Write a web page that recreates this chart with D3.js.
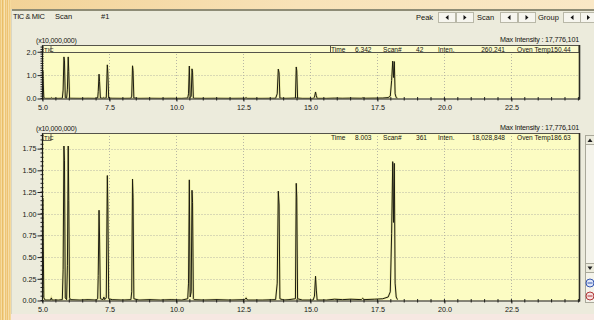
<!DOCTYPE html>
<html><head><meta charset="utf-8">
<script src="https://cdn.jsdelivr.net/npm/d3@7"></script>
<style>
html,body{margin:0;padding:0;background:#f3d8a2;}
svg{display:block;}
text{font-family:"Liberation Sans",Arial,sans-serif;fill:#151510;}
</style></head><body>
<svg id="c" width="594" height="320"></svg>
<script>
// TIC trace: retention time (min) and intensity (x10,000,000)
const times = [
  5.00, 5.01, 5.03, 5.05, 5.10, 5.30, 5.33, 5.36, 5.60, 5.74, 5.77, 5.80, 5.82, 5.85,
  5.90, 5.93, 5.96, 5.98, 6.01, 6.05, 6.40, 6.70, 7.00, 7.06, 7.08, 7.11, 7.13, 7.16,
  7.26, 7.29, 7.32, 7.38, 7.42, 7.44, 7.47, 7.60, 8.00, 8.30, 8.33, 8.36, 8.38, 8.41,
  8.60, 9.00, 9.40, 9.80, 10.20, 10.42, 10.45, 10.48, 10.51, 10.55, 10.58, 10.60, 10.63,
  10.66, 11.00, 11.50, 12.00, 12.55, 12.60, 12.65, 13.20, 13.70, 13.76, 13.80, 13.83,
  13.86, 14.00, 14.20, 14.44, 14.47, 14.49, 14.52, 14.70, 15.10, 15.15, 15.19, 15.22,
  15.25, 15.60, 15.90, 16.20, 16.50, 16.90, 16.95, 17.00, 17.40, 17.70, 17.90, 17.98,
  18.03, 18.07, 18.10, 18.13, 18.16, 18.20, 18.25
];
const intensities = [
  0.01, 1.18, 0.60, 0.03, 0.005, 0.005, 0.03, 0.005, 0.005, 0.01, 0.36, 1.78, 1.61, 0.03,
  0.01, 0.40, 1.78, 1.15, 0.03, 0.01, 0.005, 0.01, 0.005, 0.02, 0.29, 1.04, 0.72, 0.02,
  0.01, 0.04, 0.01, 0.03, 1.44, 1.08, 0.02, 0.01, 0.005, 0.01, 0.10, 1.40, 1.19, 0.02,
  0.005, 0.01, 0.005, 0.01, 0.005, 0.02, 0.20, 1.39, 0.04, 0.10, 1.27, 1.13, 0.02,
  0.01, 0.005, 0.01, 0.005, 0.01, 0.03, 0.005, 0.005, 0.01, 0.20, 1.26, 1.10,
  0.02, 0.005, 0.01, 0.02, 1.35, 1.19, 0.02, 0.005, 0.005, 0.05, 0.28, 0.12,
  0.005, 0.005, 0.015, 0.01, 0.015, 0.01, 0.025, 0.01, 0.015, 0.02, 0.04, 0.10,
  0.77, 1.60, 0.90, 1.58, 0.20, 0.04, 0.01
];

const xTickValues = [5.0, 7.5, 10.0, 12.5, 15.0, 17.5, 20.0, 22.5];
const overviewYTicks = [0.0, 1.0, 2.0];
const detailYTicks = [0.00, 0.25, 0.50, 0.75, 1.00, 1.25, 1.50, 1.75];

const scaleLabel = "(x10,000,000)";
const maxIntensityLabel = "Max Intensity : 17,776,101";
const traceName = "TIC";
const overviewCursor = ["Time", "6.342", "Scan#", "42", "Inten.", "260,241", "Oven Temp150.44"];
const detailCursor = ["Time", "8.003", "Scan#", "361", "Inten.", "18,028,848", "Oven Temp186.63"];
const toolbarLeft = ["TIC & MIC", "Scan", "#1"];
const toolbarRight = ["Peak", "Scan", "Group"];

const svg = d3.select("#c");
const defs = svg.append("defs");
const trace = times.map((t, i) => ({t, v: intensities[i]}));

// --- backdrop ---
const g1 = defs.append("linearGradient").attr("id", "top").attr("x1", 0).attr("x2", 1);
g1.append("stop").attr("offset", 0).attr("stop-color", "#f2d296");
g1.append("stop").attr("offset", 0.5).attr("stop-color", "#f8e2b8");
g1.append("stop").attr("offset", 1).attr("stop-color", "#fae8c6");
svg.append("rect").attr("width", 594).attr("height", 320).attr("fill", "url(#top)");
const streaks = ["#efc97c", "#f6dba0", "#e9bd68", "#f3d18a", "#f8e2b2", "#ecc576", "#f4d597", "#eec272", "#f7dda6", "#f0cc82", "#f5d99c"];
streaks.forEach((c, i) => svg.append("rect").attr("x", i).attr("y", 0).attr("width", 1).attr("height", 320).attr("fill", c));
svg.append("rect").attr("x", 11).attr("y", 314).attr("width", 583).attr("height", 6).attr("fill", "#f6e8e2");

// application window
svg.append("rect").attr("x", 11).attr("y", 9).attr("width", 583).attr("height", 305).attr("fill", "#ecebdc");
svg.append("line").attr("x1", 11).attr("x2", 594).attr("y1", 10).attr("y2", 10).attr("stroke", "#8e8c76").attr("stroke-width", 2);
svg.append("line").attr("x1", 11.5).attr("x2", 11.5).attr("y1", 9).attr("y2", 314).attr("stroke", "#d8d6c4");

// toolbar
const tb = svg.append("g").attr("font-size", 7.5);
tb.append("text").attr("x", 13).attr("y", 19).attr("letter-spacing", -0.4).text(toolbarLeft[0]);
tb.append("text").attr("x", 55).attr("y", 19).text(toolbarLeft[1]);
tb.append("text").attr("x", 101).attr("y", 19).text(toolbarLeft[2]);

const labelX = [416, 477, 538];
const btnX = [[438, 456], [500, 518], [563, 580]];
toolbarRight.forEach((s, i) => {
  tb.append("text").attr("x", labelX[i]).attr("y", 20).text(s);
  btnX[i].forEach((bx, j) => {
    const w = (i === 2 && j === 1) ? 16 : 17;
    tb.append("rect").attr("x", bx + 0.5).attr("y", 12.5).attr("width", w).attr("height", 10)
      .attr("fill", "#f6f5ee").attr("stroke", "#b9b8a8");
    const cx = bx + w / 2 + 0.5, cy = 17.5;
    const pts = j === 0 ? [[cx + 1.5, cy - 2.5], [cx + 1.5, cy + 2.5], [cx - 1.5, cy]]
                        : [[cx - 1.5, cy - 2.5], [cx - 1.5, cy + 2.5], [cx + 1.5, cy]];
    tb.append("polygon").attr("points", pts.map(p => p.join(",")).join(" ")).attr("fill", "#111");
  });
});

// --- chromatogram panels ---
const xLeft = 42.5, xRight = 580;

function panel(opt) {
  const x = d3.scaleLinear().domain([5.0, 25.06]).range([xLeft, xRight]);
  const y = d3.scaleLinear().domain([0, opt.yTop]).range([opt.bottom, opt.top]);
  const g = svg.append("g");

  g.append("rect").attr("x", xLeft).attr("y", opt.top).attr("width", xRight - xLeft)
    .attr("height", opt.bottom - opt.top).attr("fill", "#fcfcc3");

  // dotted grid
  g.append("g").selectAll("line").data(xTickValues.slice(1)).join("line")
    .attr("x1", d => x(d)).attr("x2", d => x(d)).attr("y1", opt.top).attr("y2", opt.bottom)
    .attr("stroke", "#b7b6a4").attr("stroke-dasharray", "1,2").attr("shape-rendering", "crispEdges");
  g.append("g").selectAll("line").data(opt.yTicks.filter(d => d > 0)).join("line")
    .attr("x1", xLeft).attr("x2", xRight).attr("y1", d => Math.round(y(d)) + 0.5).attr("y2", d => Math.round(y(d)) + 0.5)
    .attr("stroke", "#b7b6a4").attr("stroke-dasharray", "1,2");

  // header strip
  if (opt.strip) {
    g.append("rect").attr("x", xLeft).attr("y", opt.top + 0.5).attr("width", xRight - xLeft - 1).attr("height", 7)
      .attr("fill", "#fbfbcc").attr("stroke", "#55544a");
    g.append("rect").attr("x", 330.5).attr("y", opt.top + 0.5).attr("width", 249).attr("height", 7)
      .attr("fill", "none").attr("stroke", "#55544a");
  }
  g.append("rect").attr("x", xLeft + 0.5).attr("y", opt.top + 0.5).attr("width", 8).attr("height", 7)
    .attr("fill", "none").attr("stroke", "#6b6a5c");
  g.append("text").attr("x", xLeft + 1.5).attr("y", opt.top + 6.5).attr("font-size", 6).text(traceName);

  const cx = [331, 355, 383, 416, 438, 0, 517];
  const cy = opt.top + 6.8;
  opt.cursor.forEach((s, i) => {
    const t = g.append("text").attr("y", cy).attr("font-size", 6.6).text(s);
    if (i === 5) t.attr("x", 505).attr("text-anchor", "end");
    else t.attr("x", cx[i]);
  });

  // trace
  g.append("clipPath").attr("id", opt.id).append("rect")
    .attr("x", xLeft).attr("y", opt.top).attr("width", xRight - xLeft).attr("height", opt.bottom - opt.top);
  const line = d3.line().x(d => x(d.t)).y(d => y(d.v));
  g.append("path").datum(trace).attr("clip-path", `url(#${opt.id})`)
    .attr("d", line).attr("fill", "none").attr("stroke", "#e7e59c").attr("stroke-width", 2.2);
  g.append("path").datum(trace).attr("clip-path", `url(#${opt.id})`)
    .attr("d", line).attr("fill", "none").attr("stroke", "#1c1c12").attr("stroke-width", 1);

  // axes
  const xAxis = g.append("g").attr("transform", `translate(0,${opt.bottom})`)
    .call(d3.axisBottom(x).tickValues(xTickValues).tickFormat(d3.format(".1f")).tickSize(3).tickPadding(3));
  xAxis.call(a => a.select(".domain").remove());
  xAxis.selectAll("text").attr("font-size", 7.2).attr("fill", "#151510");
  xAxis.selectAll("line").attr("stroke", "#222");
  g.append("g").selectAll("line").data(x.ticks(40)).join("line")
    .attr("x1", d => x(d)).attr("x2", d => x(d)).attr("y1", opt.bottom - 1.5).attr("y2", opt.bottom + 2)
    .attr("stroke", "#222");

  const yAxis = g.append("g").attr("transform", `translate(${xLeft},0)`)
    .call(d3.axisLeft(y).tickValues(opt.yTicks).tickFormat(d3.format(opt.fmt)).tickSize(5).tickPadding(1));
  yAxis.call(a => a.select(".domain").remove());
  yAxis.selectAll("text").attr("font-size", 7.2).attr("fill", "#151510");
  yAxis.selectAll("line").attr("stroke", "#222");
  g.append("g").selectAll("line").data(y.ticks(opt.minor).filter(d => y(d) > opt.top + 2)).join("line")
    .attr("x1", xLeft - 2).attr("x2", xLeft + 1).attr("y1", d => y(d)).attr("y2", d => y(d))
    .attr("stroke", "#222");

  // frame
  g.append("line").attr("x1", xLeft).attr("x2", xLeft).attr("y1", opt.top).attr("y2", opt.bottom + 0.5).attr("stroke", "#1a1a14").attr("stroke-width", 1.2);
  g.append("line").attr("x1", xLeft).attr("x2", xRight).attr("y1", opt.bottom + 0.5).attr("y2", opt.bottom + 0.5).attr("stroke", "#1a1a14").attr("stroke-width", 1.2);
  g.append("line").attr("x1", xLeft).attr("x2", xRight).attr("y1", opt.top + 0.5).attr("y2", opt.top + 0.5).attr("stroke", "#55544a");
  g.append("line").attr("x1", xRight - 0.5).attr("x2", xRight - 0.5).attr("y1", opt.top).attr("y2", opt.bottom + 1).attr("stroke", "#2a2a22").attr("stroke-width", 1.6);

  // labels above the panel
  g.append("text").attr("x", 36).attr("y", opt.top - 2).attr("font-size", 7).attr("letter-spacing", -0.2).text(scaleLabel);
  g.append("text").attr("x", 579).attr("y", opt.top - 3).attr("text-anchor", "end").attr("font-size", 7.2).attr("letter-spacing", -0.2).text(maxIntensityLabel);
}

panel({id: "clipA", top: 45, bottom: 98.5, yTop: 2.29, yTicks: overviewYTicks, fmt: ".1f", minor: 20, strip: true, cursor: overviewCursor});
panel({id: "clipB", top: 133, bottom: 300.5, yTop: 1.93, yTicks: detailYTicks, fmt: ".2f", minor: 40, strip: false, cursor: detailCursor});

// scroll bar beside the lower panel
const sb = svg.append("g");
sb.append("rect").attr("x", 585.5).attr("y", 135.5).attr("width", 9).attr("height", 167).attr("fill", "#f4f3ea").attr("stroke", "#a9a89a");
sb.append("rect").attr("x", 585.5).attr("y", 135.5).attr("width", 9).attr("height", 9).attr("fill", "#ecebdc").attr("stroke", "#a9a89a");
sb.append("polygon").attr("points", "587.5,142 592.5,142 590,138.5").attr("fill", "#222");
sb.append("rect").attr("x", 585.5).attr("y", 263.5).attr("width", 9).attr("height", 9).attr("fill", "#ecebdc").attr("stroke", "#a9a89a");
sb.append("polygon").attr("points", "587.5,266.5 592.5,266.5 590,270").attr("fill", "#222");
sb.append("circle").attr("cx", 590).attr("cy", 283).attr("r", 4).attr("fill", "#dfe6f6").attr("stroke", "#3557b0");
sb.append("line").attr("x1", 587.5).attr("x2", 592.5).attr("y1", 283).attr("y2", 283).attr("stroke", "#3557b0");
sb.append("circle").attr("cx", 590).attr("cy", 296).attr("r", 4).attr("fill", "#f6e0e0").attr("stroke", "#b03535");
sb.append("line").attr("x1", 587.5).attr("x2", 592.5).attr("y1", 296).attr("y2", 296).attr("stroke", "#b03535");
</script>
</body></html>
